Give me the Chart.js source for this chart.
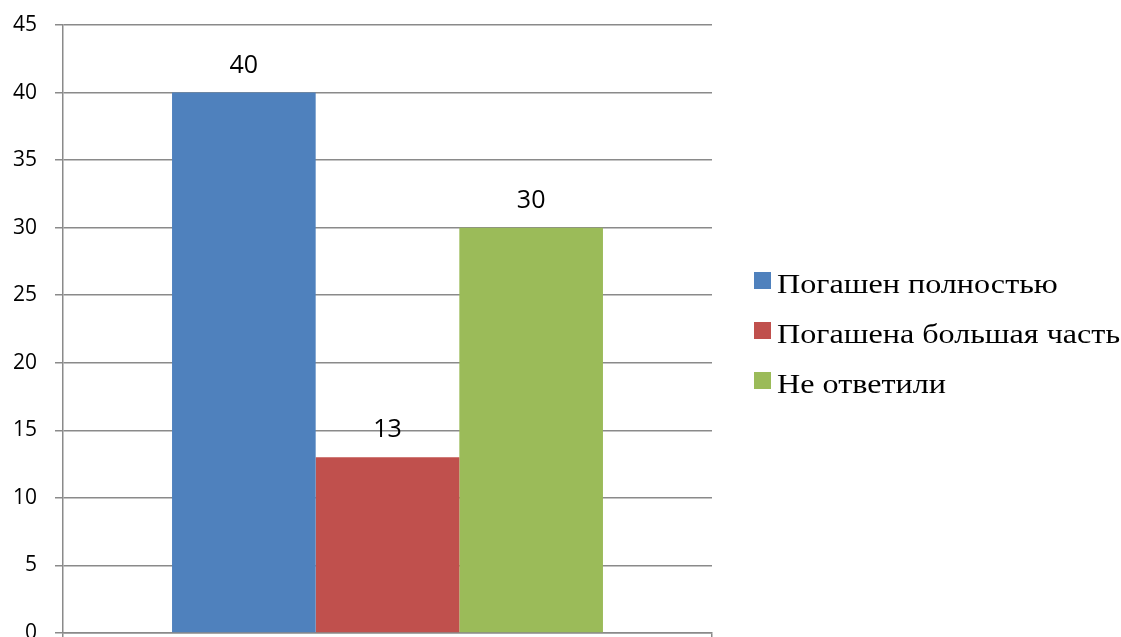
<!DOCTYPE html>
<html>
<head>
<meta charset="utf-8">
<script src="https://cdn.jsdelivr.net/npm/chart.js@4/dist/chart.umd.min.js"></script>
<style>
  html, body { margin: 0; padding: 0; background: #fff; overflow: hidden; }
  #wrap { position: relative; width: 1121px; height: 660px; }
</style>
</head>
<body>
<div id="wrap"><canvas id="c"></canvas></div>
<script>
// Survey answers: how the loan was repaid
const categories = [''];
const seriesLabels = ['Погашен полностью', 'Погашена большая часть', 'Не ответили'];
const seriesValues = [[40], [13], [30]];
const seriesColors = ['#4F81BD', '#C0504D', '#9BBB59'];
const yTicks = [0, 5, 10, 15, 20, 25, 30, 35, 40, 45];

const gridColor = '#8A8A8A';

// Value labels above each bar
const valueLabels = {
  id: 'valueLabels',
  afterDatasetsDraw(chart) {
    const ctx = chart.ctx;
    ctx.save();
    ctx.font = '25px "Open Sans", sans-serif';
    ctx.fillStyle = '#000';
    ctx.textAlign = 'center';
    ctx.textBaseline = 'middle';
    chart.data.datasets.forEach((ds, i) => {
      chart.getDatasetMeta(i).data.forEach((bar, j) => {
        const p = bar.getProps(['x', 'y'], true);
        ctx.fillText(String(ds.data[j]), p.x, p.y - 27);
      });
    });
    ctx.restore();
  }
};

// Legend to the right of the plot (wide serif lettering)
const sideLegend = {
  id: 'sideLegend',
  afterDraw(chart) {
    const ctx = chart.ctx;
    const x0 = chart.chartArea.right + 42;
    const stretch = 1.19;
    ctx.save();
    ctx.font = '27px "Liberation Serif", "Times New Roman", serif';
    ctx.textBaseline = 'alphabetic';
    ctx.textAlign = 'left';
    chart.data.datasets.forEach((ds, i) => {
      const top = 272 + 50 * i;
      ctx.fillStyle = ds.backgroundColor;
      ctx.fillRect(x0, top, 17, 17);
      ctx.fillStyle = '#000';
      ctx.save();
      ctx.translate(x0 + 23, top + 21);
      ctx.scale(stretch, 1);
      ctx.fillText(ds.label, 0, 0);
      ctx.restore();
    });
    ctx.restore();
  }
};

new Chart(document.getElementById('c'), {
  type: 'bar',
  data: {
    labels: categories,
    datasets: seriesLabels.map((label, i) => ({
      label,
      data: seriesValues[i],
      backgroundColor: seriesColors[i],
      borderWidth: 0,
      categoryPercentage: 0.664,
      barPercentage: 1
    }))
  },
  options: {
    responsive: true,
    maintainAspectRatio: false,
    animation: false,
    layout: { padding: { top: 25, right: 409, bottom: 21, left: 0 } },
    plugins: {
      legend: { display: false },
      tooltip: { enabled: false }
    },
    scales: {
      x: {
        grid: {
          display: true,
          drawOnChartArea: false,
          drawTicks: true,
          tickLength: 6,
          offset: true,
          color: gridColor,
          lineWidth: 1.5
        },
        border: { display: true, color: gridColor, width: 1.5 },
        ticks: { display: false }
      },
      y: {
        min: 0,
        max: 45,
        afterBuildTicks(scale) {
          scale.ticks = yTicks.map(v => ({ value: v }));
        },
        afterFit(scale) {
          scale.width = 63;
          scale.paddingTop = 0;
          scale.paddingBottom = 0;
        },
        grid: {
          color: gridColor,
          lineWidth: 1.5,
          drawTicks: true,
          tickLength: 8
        },
        border: { display: true, color: gridColor, width: 1.5 },
        ticks: {
          padding: 18,
          color: '#000',
          font: { family: '"Open Sans", sans-serif', size: 21 }
        }
      }
    }
  },
  plugins: [valueLabels, sideLegend]
});
</script>
</body>
</html>
